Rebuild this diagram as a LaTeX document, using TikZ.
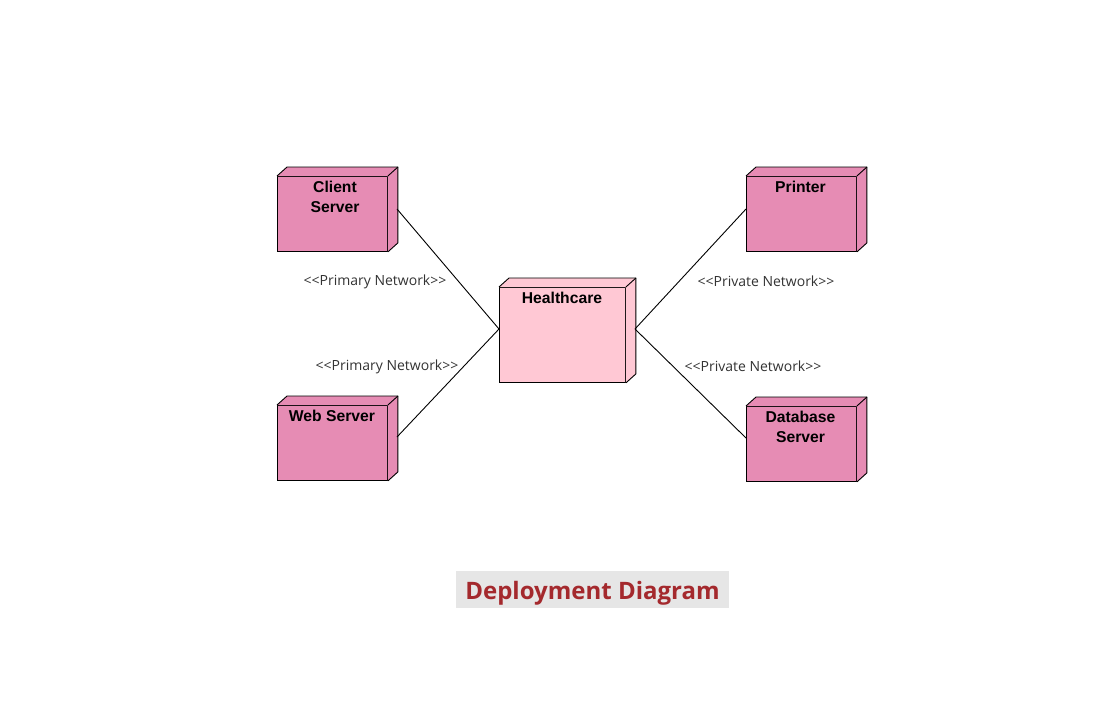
\documentclass[tikz,border=0pt]{standalone}
\usepackage{fontspec}
\setmainfont{Liberation Sans}
\newfontfamily\netfont{Open Sans}
\usetikzlibrary{calc}
\definecolor{nodepink}{HTML}{E68CB4}
\definecolor{lightpink}{HTML}{FFC8D4}
\definecolor{titlered}{HTML}{A4292D}
\definecolor{titlebg}{HTML}{E6E6E6}
\definecolor{nettext}{HTML}{333333}
\tikzset{
  x=1pt, y=-1pt,
  cubebox/.style={draw=black, line width=0.9pt, fill=nodepink, minimum width=110pt, minimum height=75pt, inner sep=0pt, anchor=north west},
  cubelbl/.style={anchor=north, font=\bfseries\fontsize{15.7}{19.5}\selectfont, align=center, inner sep=0pt, text=black},
  netlbl/.style={font=\netfont\fontsize{14}{16}\selectfont, text=nettext, inner sep=0pt},
  link/.style={draw=black, line width=0.9pt},
}
\newcommand{\cubetop}[2]{%
  \fill[#2] (#1.north west) -- ++(10,-9) -- ($(#1.north east)+(10,-9)$) -- ($(#1.south east)+(10,-9)$) -- (#1.south east) -- (#1.north east) -- cycle;
  \draw[line width=0.9pt, line join=round] (#1.north west) -- ++(10,-9) -- ($(#1.north east)+(10,-9)$) -- ($(#1.south east)+(10,-9)$) -- (#1.south east);
  \draw[line width=0.9pt] (#1.north east) -- ++(10,-9);
}
\begin{document}
\begin{tikzpicture}
\useasboundingbox (0,0) rectangle (1095,723);
% nodes
\node[cubebox] (cs) at (277,176) {};
\node[cubebox] (pr) at (746,176) {};
\node[cubebox] (ws) at (277,405) {};
\node[cubebox] (db) at (746,406) {};
\node[cubebox, fill=lightpink, minimum width=126pt, minimum height=95pt] (hc) at (499,287) {};
\cubetop{cs}{nodepink}
\cubetop{pr}{nodepink}
\cubetop{ws}{nodepink}
\cubetop{db}{nodepink}
\cubetop{hc}{lightpink}
% labels
\node[cubelbl] (csl) at (335,181) {Client\\Server};
\node[cubelbl] (prl) at (800.5,181) {Printer};
\node[cubelbl] (wsl) at (332,410) {Web Server};
\node[cubelbl] (dbl) at (800.5,411) {Database\\Server};
\node[cubelbl] (hcl) at (562,292) {Healthcare};
% connection points
\coordinate (csr) at (397,209);
\coordinate (wsr) at (397,437);
\coordinate (hcw) at (499,329);
\coordinate (hce) at (635,329);
\coordinate (prw) at (746,209);
\coordinate (dbw) at (746,438);
\draw[link] (csr) -- (hcw);
\draw[link] (wsr) -- (hcw);
\draw[link] (hce) -- (prw);
\draw[link] (hce) -- (dbw);
% network labels
\node[netlbl] (n1) at (375,281.5) {<{}<Primary Network>{}>};
\node[netlbl] (n2) at (387,366.5) {<{}<Primary Network>{}>};
\node[netlbl] (n3) at (766,281.5) {<{}<Private Network>{}>};
\node[netlbl] (n4) at (753,366.5) {<{}<Private Network>{}>};
% title
\fill[titlebg] (456,571) rectangle (729,608);
\node[font=\netfont\bfseries\fontsize{24}{28}\selectfont, text=titlered, inner sep=0pt] (title) at (592.5,593.5) {Deployment Diagram};
\end{tikzpicture}
\end{document}
